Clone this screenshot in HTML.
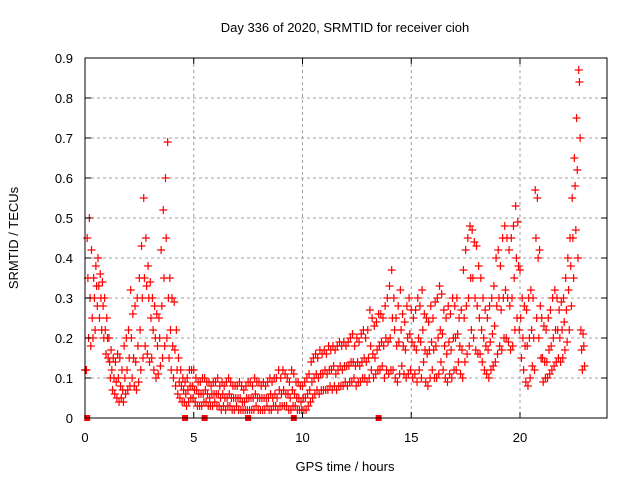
<!DOCTYPE html>
<html><head><meta charset="utf-8"><style>
body{margin:0;background:#fff;}
svg text{font-family:"Liberation Sans",sans-serif;font-size:13px;fill:#000;}
</style></head><body>
<svg id="chart" width="640" height="480" xmlns="http://www.w3.org/2000/svg">
<text x="345" y="32" text-anchor="middle">Day 336 of 2020, SRMTID for receiver cioh</text>
<text x="345" y="471" text-anchor="middle">GPS time / hours</text>
<text transform="translate(18,238) rotate(-90)" text-anchor="middle">SRMTID / TECUs</text>
<g id="grid"></g><g id="marks"></g><g id="axes"></g>
</svg>
<script>
const xTicks=[0,5,10,15,20];
const yTicks=[0,0.1,0.2,0.3,0.4,0.5,0.6,0.7,0.8,0.9];
const yTickLabels=["0","0.1","0.2","0.3","0.4","0.5","0.6","0.7","0.8","0.9"];
const squareTimes=[0.1,4.6,5.5,7.5,9.6,13.5];
const hiVals=[12,45,50,42,35,38,40,36,34,30,25,20,17,15,14,16,15,12,18,20,22,32,26,28,30,35,43,55,45,38,34,30,28,26,25,42,52,60,69,35,30,29,22,15,12,10,9,10,12,12,12,10,9,9,10,10,9,9,8,9,9,10,8,9,8,9,10,9,8,8,8,9,8,7,8,9,9,8,10,9,9,8,9,8,9,10,9,10,10,12,10,12,11,10,9,12,11,9,9,8,8,9,10,11,14,15,16,15,17,16,17,16,18,17,18,17,18,19,18,19,18,19,20,21,18,20,19,21,22,20,22,27,25,23,24,26,26,25,28,30,33,37,30,25,28,32,26,24,28,30,27,25,27,30,28,32,26,25,24,28,25,29,30,33,31,27,25,28,26,30,28,30,25,27,37,42,45,48,47,44,43,38,35,30,27,25,28,30,33,40,42,38,45,48,45,42,45,48,53,49,37,30,28,27,30,32,30,57,55,42,25,23,22,25,27,30,32,30,27,29,30,35,40,45,55,65,75,87,22,21];
const midVals=[12,35,30,25,30,33,33,30,28,22,20,14,12,10,9,10,8,7,10,12,15,20,15,14,18,22,30,35,33,30,25,22,20,18,20,28,35,45,30,22,18,17,12,9,8,7,6,7,8,8,7,7,6,6,6,7,6,5,6,6,6,6,5,6,5,5,6,5,5,5,5,5,4,4,5,5,5,5,6,5,5,5,5,5,5,6,5,6,5,7,6,7,6,6,5,7,6,5,5,4,5,5,6,7,9,10,11,10,11,11,12,11,12,12,13,11,12,13,12,13,13,13,14,14,13,14,13,14,15,14,15,18,16,15,17,18,19,18,20,19,20,25,22,18,19,22,18,17,20,21,19,18,17,20,19,22,17,16,17,19,17,18,20,22,21,18,16,19,17,20,20,21,18,17,25,28,30,35,35,30,28,25,22,20,18,17,19,21,23,28,30,27,30,32,30,28,30,35,40,38,25,20,18,18,20,22,20,45,40,28,15,14,14,17,18,20,22,22,20,22,24,27,32,38,45,58,62,84,17,18];
const loVals=[12,20,18,20,22,28,25,22,20,16,15,10,7,6,5,4,5,4,6,7,8,10,8,7,9,12,15,18,16,14,15,12,10,11,13,15,18,20,15,12,10,8,6,5,4,4,3,4,5,5,4,3,3,3,4,4,3,3,3,4,3,3,2,3,2,3,3,2,2,3,2,2,2,2,2,2,2,2,3,2,2,2,2,3,2,2,3,3,2,3,3,3,3,2,2,3,3,2,2,2,2,2,3,4,5,6,7,6,7,7,7,7,8,7,8,7,8,8,8,9,8,9,9,10,8,9,9,10,10,9,10,12,10,11,12,12,13,10,12,11,12,12,10,9,11,13,11,10,11,12,10,11,9,12,10,14,9,8,10,12,10,10,11,14,12,10,9,11,10,12,12,14,11,10,14,16,18,22,20,17,16,16,14,12,11,10,12,13,14,16,18,17,20,20,19,17,18,22,25,22,15,12,9,8,10,13,12,25,20,15,9,10,10,11,12,13,14,15,14,15,17,19,22,28,35,47,40,70,12,13];
const L=85,R=607,T=58,B=418,XMAX=24,YMAX=0.9;
const xs=t=>L+t/XMAX*(R-L), ys=v=>B-v/YMAX*(B-T);
const NS="http://www.w3.org/2000/svg";
function mk(tag,attrs,parent){const e=document.createElementNS(NS,tag);for(const k in attrs)e.setAttribute(k,attrs[k]);parent.appendChild(e);return e;}
const grid=document.getElementById('grid'),marks=document.getElementById('marks'),axes=document.getElementById('axes');
yTicks.forEach((v,i)=>{
  const y=ys(v);
  if(i>0&&i<yTicks.length-1){const g=mk('line',{x1:L,x2:R,y1:y,y2:y,stroke:'#a0a0a0','stroke-dasharray':'3,3'},grid);
  
  }
  const tk=mk('path',{d:`M${L},${y}h6M${R},${y}h-6`,stroke:'#000'},axes);
  
  
  const tx=mk('text',{x:L-12,y:y+5,'text-anchor':'end'},axes);tx.textContent=yTickLabels[i];
  
  
});
xTicks.forEach(t=>{
  const x=xs(t);
  if(t>0){const g=mk('line',{x1:x,x2:x,y1:T,y2:B,stroke:'#a0a0a0','stroke-dasharray':'3,3'},grid);
  
  }
  const tk=mk('path',{d:`M${x},${B}v-6M${x},${T}v6`,stroke:'#000'},axes);
  
  
  const tx=mk('text',{x:x,y:B+24,'text-anchor':'middle'},axes);tx.textContent=String(t);
  
  
});
const border=mk('rect',{x:L,y:T,width:R-L,height:B-T,fill:'none',stroke:'#000'},axes);


function plus(t,v,color){
  const x=xs(t),y=ys(v);
  const p=mk('path',{d:`M${x-4},${y}h8M${x},${y-4}v8`,stroke:color,'stroke-width':1.2},marks);
  
  
}
[[loVals,0.066],[midVals,0.033],[hiVals,0]].forEach(([arr,off])=>{
  arr.forEach((v,i)=>{plus(i*0.1+off,v/100,'#ff0000');});
});
squareTimes.forEach(t=>{
  const s=mk('rect',{x:xs(t)-3,y:B-3,width:6,height:6,fill:'#ff0000'},marks);
  
  
});
</script>
</body></html>
